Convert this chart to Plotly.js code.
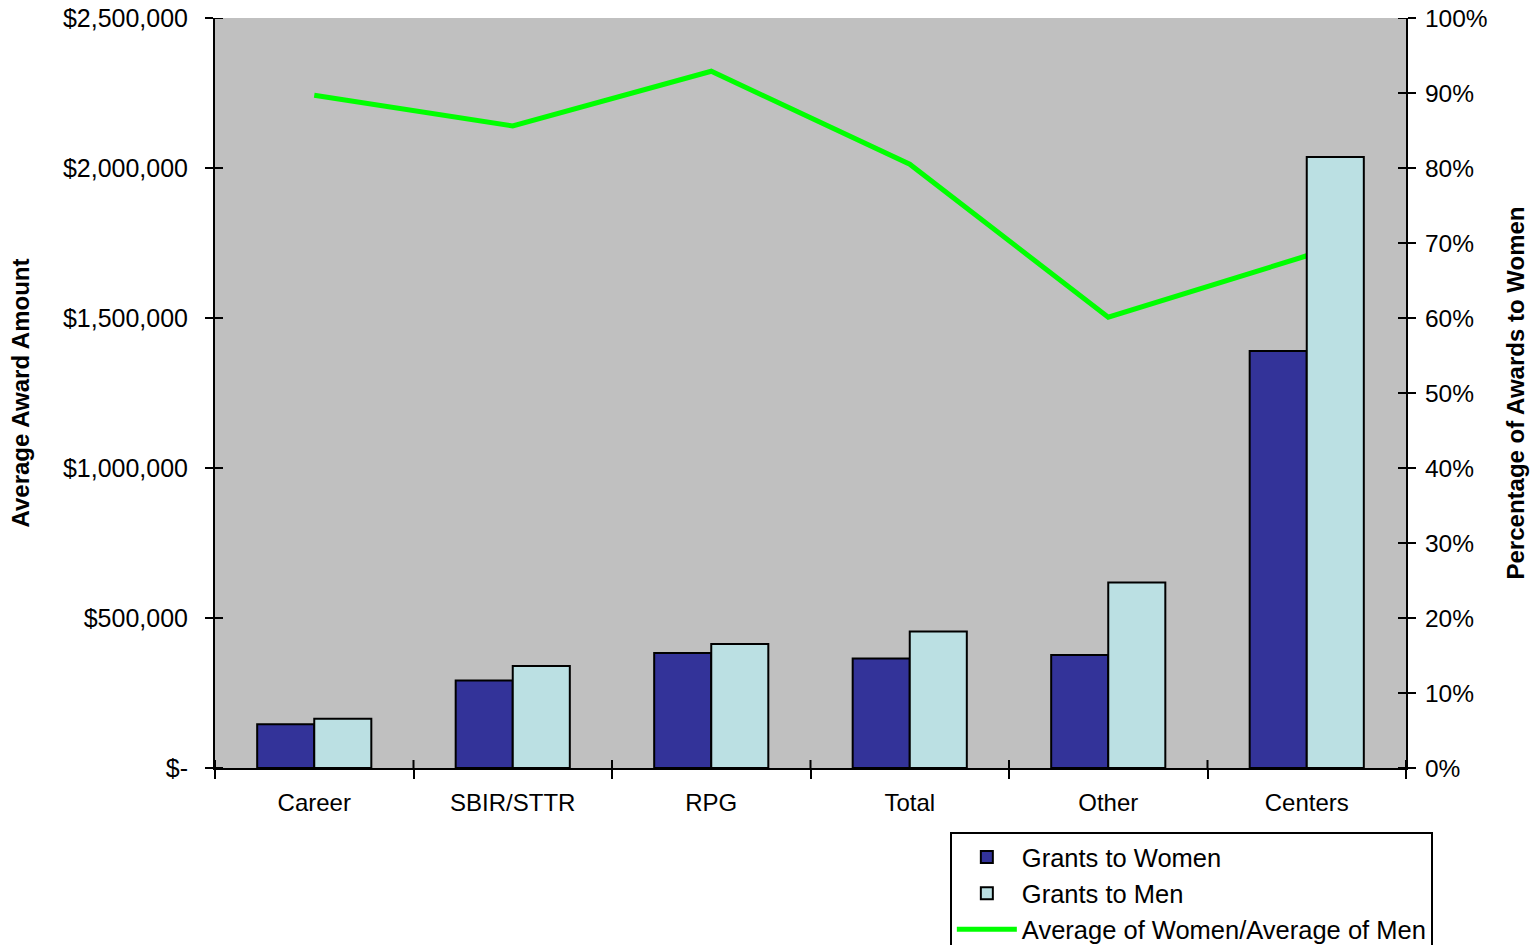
<!DOCTYPE html>
<html>
<head>
<meta charset="utf-8">
<script src="https://cdn.plot.ly/plotly-3.0.1.min.js"></script>
<style>html,body{margin:0;padding:0;background:#fff;}#chart{width:1537px;height:945px;}</style>
</head>
<body>
<div id="chart"></div>
<script>
const categories = ["Career", "SBIR/STTR", "RPG", "Total", "Other", "Centers"];
const grantsWomen = [146000, 292000, 383000, 365000, 377000, 1390000];
const grantsMen = [164000, 340000, 413000, 455000, 618000, 2037000];
const ratioPct = [0.897, 0.856, 0.929, 0.805, 0.601, 0.683];
const leftTicks = [0, 500000, 1000000, 1500000, 2000000, 2500000];
const leftTickText = ["$-", "$500,000", "$1,000,000", "$1,500,000", "$2,000,000", "$2,500,000"];
const rightTicks = [0, 0.1, 0.2, 0.3, 0.4, 0.5, 0.6, 0.7, 0.8, 0.9, 1];

const fam = "Liberation Sans, Arial, sans-serif";
const f = (size) => ({family: fam, size: size, color: "#000"});

const traces = [
  {
    type: "scatter", mode: "lines", name: "Average of Women/Average of Men",
    x: categories, y: ratioPct, yaxis: "y",
    line: {color: "#00ff00", width: 5}, legendrank: 3
  },
  {
    type: "bar", name: "Grants to Women", x: categories, y: grantsWomen, yaxis: "y2",
    marker: {color: "#333399", line: {color: "#000", width: 2}}, legendrank: 1
  },
  {
    type: "bar", name: "Grants to Men", x: categories, y: grantsMen, yaxis: "y2",
    marker: {color: "#bbe0e3", line: {color: "#000", width: 2}}, legendrank: 2
  }
];

// inner half of the crossing tick marks (Plotly draws the outer half)
const plotW = 1537 - 215 - 131, plotH = 945 - 18 - 177;
const tl = 8;
const shapes = [];
leftTicks.forEach(v => shapes.push({type: "line", xref: "paper", yref: "y2", x0: 0, x1: tl / plotW, y0: v, y1: v, line: {color: "#000", width: 2}, layer: "above"}));
rightTicks.forEach(v => shapes.push({type: "line", xref: "paper", yref: "y", x0: 1 - tl / plotW, x1: 1, y0: v, y1: v, line: {color: "#000", width: 2}, layer: "above"}));
for (let i = 0; i <= categories.length; i++) {
  shapes.push({type: "line", xref: "x", yref: "paper", x0: i - 0.5, x1: i - 0.5, y0: 0, y1: tl / plotH, line: {color: "#000", width: 2}, layer: "above"});
}

const tickCommon = {tickwidth: 2, tickcolor: "#000", showgrid: false, zeroline: false};

const layout = {
  width: 1537, height: 945,
  margin: {l: 215, r: 131, t: 18, b: 177, autoexpand: false},
  paper_bgcolor: "#ffffff",
  plot_bgcolor: "#c0c0c0",
  font: f(25),
  barmode: "group",
  bargap: 0.425,
  bargroupgap: 0,
  showlegend: true,
  shapes: shapes,
  xaxis: Object.assign({
    type: "category", range: [-0.5, 5.5],
    showline: true, linecolor: "#000", linewidth: 2,
    ticks: "outside", tickson: "boundaries", ticklen: 9,
    tickfont: f(24), ticklabelstandoff: 12
  }, tickCommon),
  yaxis: Object.assign({
    side: "right",
    range: [0, 1], tickvals: rightTicks, tickformat: ".0%",
    showline: true, linecolor: "#000", linewidth: 2,
    ticks: "outside", ticklen: 8,
    tickfont: f(24.5), ticklabelstandoff: 4,
    title: {text: "<b>Percentage of Awards to Women</b>", font: f(24), standoff: 21}
  }, tickCommon),
  yaxis2: Object.assign({
    overlaying: "y", side: "left",
    range: [0, 2500000], tickvals: leftTicks, ticktext: leftTickText,
    showline: true, linecolor: "#000", linewidth: 2,
    ticks: "outside", ticklen: 8,
    tickfont: f(25), ticklabelstandoff: 12,
    title: {text: "<b>Average Award Amount</b>", font: f(24), standoff: 26}
  }, tickCommon),
  legend: {
    x: 0.617, y: -0.0853, xanchor: "left", yanchor: "top",
    bgcolor: "#ffffff", bordercolor: "#000", borderwidth: 2,
    font: f(25.5),
    traceorder: "normal",
    itemwidth: 60
  }
};

Plotly.newPlot("chart", traces, layout, {displayModeBar: false, responsive: false});
</script>
</body>
</html>
